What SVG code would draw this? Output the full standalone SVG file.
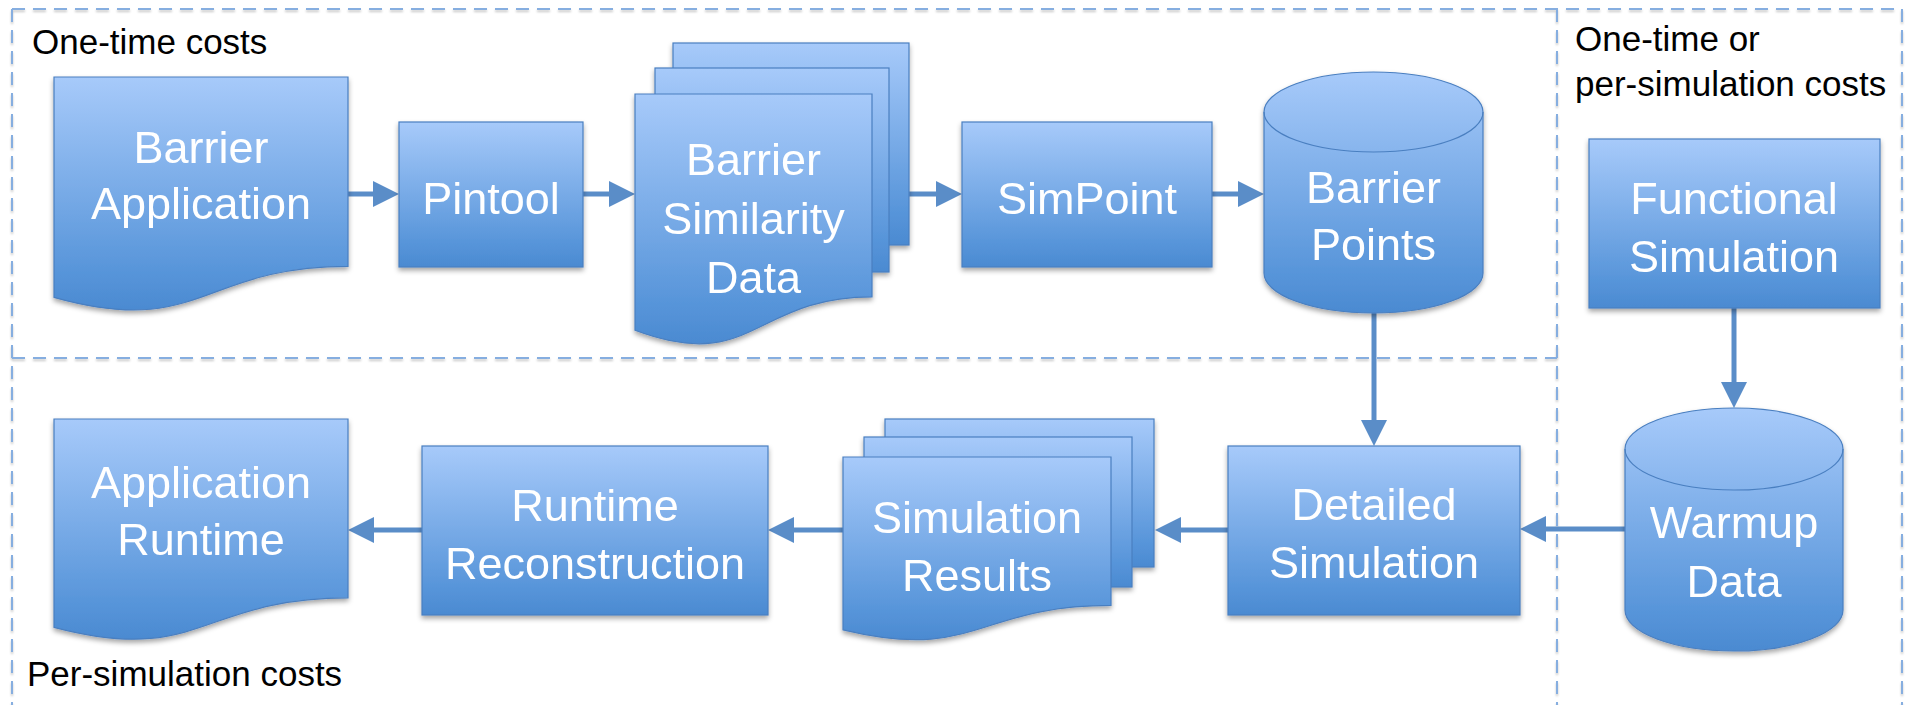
<svg xmlns="http://www.w3.org/2000/svg" width="1905" height="705" viewBox="0 0 1905 705">
  <defs>
    <linearGradient id="fillBlue" x1="0" y1="0" x2="0" y2="1">
      <stop offset="0" stop-color="#a7cafa"/>
      <stop offset="0.85" stop-color="#5694d9"/>
      <stop offset="1" stop-color="#4b8ad1"/>
    </linearGradient>
    <filter id="shadow" x="-10%" y="-10%" width="120%" height="125%">
      <feDropShadow dx="0" dy="3" stdDeviation="2.5" flood-color="#000" flood-opacity="0.35"/>
    </filter>
    <filter id="lineShadow" x="-1%" y="-50%" width="102%" height="200%">
      <feDropShadow dx="0" dy="2" stdDeviation="1" flood-color="#000" flood-opacity="0.22"/>
    </filter>
    <marker id="arrow" markerUnits="userSpaceOnUse" markerWidth="26" markerHeight="26" refX="6" refY="13" orient="auto">
      <path d="M0,0 L26,13 L0,26 Z" fill="#5a8dc8"/>
    </marker>
    <style>
      .shape { fill: url(#fillBlue); stroke: #4a7fc0; stroke-width: 1.2; }
      .rim { fill: none; stroke: #4a7fc0; stroke-width: 1.2; }
      .node { filter: url(#shadow); }
      .label { font-family: "Liberation Sans", Arial, sans-serif; font-size: 45px; fill: #ffffff; text-anchor: middle; }
      .region { font-family: "Liberation Sans", Arial, sans-serif; font-size: 35px; fill: #000000; }
      .frame { fill: none; stroke: #86aee0; stroke-width: 2; stroke-dasharray: 13 8; }
      .conn { fill: none; stroke: #5a8dc8; stroke-width: 5; marker-end: url(#arrow); }
    </style>
  </defs>

  <rect width="1905" height="705" fill="#ffffff"/>

  <!-- cost regions -->
  <g id="regions" filter="url(#lineShadow)">
    <line class="frame" x1="12" y1="9" x2="1902" y2="9"/>
    <line class="frame" x1="12" y1="9" x2="12" y2="705"/>
    <line class="frame" x1="12" y1="358" x2="1557" y2="358"/>
    <line class="frame" x1="1557" y1="9" x2="1557" y2="705"/>
    <line class="frame" x1="1902" y1="9" x2="1902" y2="705"/>
  </g>
  <g id="region-labels">
    <text class="region" x="32" y="54">One-time costs</text>
    <text class="region" x="1575" y="51">One-time or</text>
    <text class="region" x="1575" y="96">per-simulation costs</text>
    <text class="region" x="27" y="686">Per-simulation costs</text>
  </g>

  <!-- connectors -->
  <g id="connectors">
    <line class="conn" x1="348" y1="194" x2="379" y2="194"/>
    <line class="conn" x1="583" y1="194" x2="615" y2="194"/>
    <line class="conn" x1="909" y1="194" x2="942" y2="194"/>
    <line class="conn" x1="1212" y1="194" x2="1244" y2="194"/>
    <line class="conn" x1="1374" y1="313" x2="1374" y2="426"/>
    <line class="conn" x1="1734" y1="308" x2="1734" y2="388"/>
    <line class="conn" x1="1625" y1="529" x2="1540" y2="529"/>
    <line class="conn" x1="1228" y1="530" x2="1175" y2="530"/>
    <line class="conn" x1="843" y1="530" x2="788" y2="530"/>
    <line class="conn" x1="422" y1="530" x2="368" y2="530"/>
  </g>

  <!-- nodes -->
  <g id="barrier-application" class="node">
    <path class="shape" d="M54,77 H348 V266.3 C201,266.3 201,338.5 54,297.4 Z"/>
    <text class="label" x="201" y="163">Barrier</text>
    <text class="label" x="201" y="219">Application</text>
  </g>

  <g id="pintool" class="node">
    <rect class="shape" x="399" y="122" width="184" height="145"/>
    <text class="label" x="491" y="214">Pintool</text>
  </g>

  <g id="barrier-similarity-data" class="node">
    <rect class="shape" x="673" y="43" width="236" height="202"/>
    <rect class="shape" x="655" y="68" width="234" height="204"/>
    <path class="shape" d="M635,94 H872 V296.9 C753.5,296.9 753.5,374.3 635,330.3 Z"/>
    <text class="label" x="753.5" y="175">Barrier</text>
    <text class="label" x="753.5" y="234">Similarity</text>
    <text class="label" x="753.5" y="293">Data</text>
  </g>

  <g id="simpoint" class="node">
    <rect class="shape" x="962" y="122" width="250" height="145"/>
    <text class="label" x="1087" y="214">SimPoint</text>
  </g>

  <g id="barrier-points" class="node">
    <path class="shape" d="M1264,112 A109.5,40 0 0 1 1483,112 V273 A109.5,40 0 0 1 1264,273 Z"/>
    <path class="rim" d="M1264,112 A109.5,40 0 0 0 1483,112"/>
    <text class="label" x="1373.5" y="203">Barrier</text>
    <text class="label" x="1373.5" y="260">Points</text>
  </g>

  <g id="functional-simulation" class="node">
    <rect class="shape" x="1589" y="139" width="291" height="169"/>
    <text class="label" x="1734" y="214">Functional</text>
    <text class="label" x="1734" y="272">Simulation</text>
  </g>

  <g id="warmup-data" class="node">
    <path class="shape" d="M1625,449 A109,41 0 0 1 1843,449 V610 A109,41 0 0 1 1625,610 Z"/>
    <path class="rim" d="M1625,449 A109,41 0 0 0 1843,449"/>
    <text class="label" x="1734" y="538">Warmup</text>
    <text class="label" x="1734" y="597">Data</text>
  </g>

  <g id="detailed-simulation" class="node">
    <rect class="shape" x="1228" y="446" width="292" height="169"/>
    <text class="label" x="1374" y="520">Detailed</text>
    <text class="label" x="1374" y="578">Simulation</text>
  </g>

  <g id="simulation-results" class="node">
    <rect class="shape" x="885" y="419" width="269" height="148"/>
    <rect class="shape" x="864" y="437" width="268" height="150"/>
    <path class="shape" d="M843,457 H1111 V605.4 C977,605.4 977,662 843,629.8 Z"/>
    <text class="label" x="977" y="533">Simulation</text>
    <text class="label" x="977" y="591">Results</text>
  </g>

  <g id="runtime-reconstruction" class="node">
    <rect class="shape" x="422" y="446" width="346" height="169"/>
    <text class="label" x="595" y="521">Runtime</text>
    <text class="label" x="595" y="579">Reconstruction</text>
  </g>

  <g id="application-runtime" class="node">
    <path class="shape" d="M54,419 H348 V597.8 C201,597.8 201,666.1 54,627.3 Z"/>
    <text class="label" x="201" y="498">Application</text>
    <text class="label" x="201" y="555">Runtime</text>
  </g>
</svg>
